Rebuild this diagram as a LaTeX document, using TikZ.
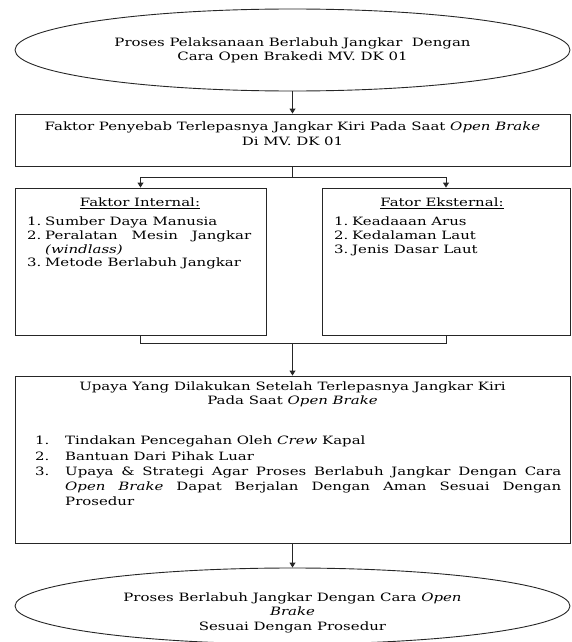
\documentclass[tikz,border=0pt]{standalone}
\usepackage{fontspec}
\setmainfont{DejaVu Serif}[FakeStretch=1.3]
\usetikzlibrary{arrows.meta,shapes.geometric}

\begin{document}
\begin{tikzpicture}[x=1pt,y=-1pt]
    \tikzset{
      frame/.style={draw=black!85, line width=0.9pt, inner sep=0pt},
      box/.style={frame, rectangle},
      oval/.style={frame, ellipse},
      txt/.style={inner sep=0pt, align=center, font=\fontsize{11.5}{14.5}\selectfont},
      daftar/.style={inner sep=0pt, anchor=west},
      link/.style={draw=black!85, line width=0.9pt},
      arr/.style={link, -{Triangle[width=6pt,length=5pt]}}
    }
    \useasboundingbox (0,0) rectangle (572,642);

    % Awal: proses pelaksanaan berlabuh jangkar
    \node[oval, minimum width=555pt, minimum height=82pt] (awal) at (292.5,50) {};
    \node[txt] (awalT) at (292.5,50.5) {Proses Pelaksanaan Berlabuh Jangkar\ \ Dengan\\Cara Open Brakedi MV. DK 01};

    % Faktor penyebab
    \node[box, minimum width=555pt, minimum height=52pt] (faktor) at (292.5,140) {};
    \node[txt] (faktorT) at (292.5,133.5) {Faktor Penyebab Terlepasnya Jangkar Kiri Pada Saat \textit{Open Brake}\\Di MV. DK 01};

    % Faktor internal
    \node[box, minimum width=251pt, minimum height=147pt] (internal) at (140.5,261.5) {};
    \node[txt] (internalH) at (140,203) {\underline{Faktor Internal:}};
    \node[daftar, font=\fontsize{11.5}{13.7}\selectfont] (internalL) at (27,243.5) {%
      \begin{tabular}{@{}l@{}l@{}}
        \makebox[18pt][l]{1.} & Sumber Daya Manusia\\
        2. & \makebox[206pt][s]{Peralatan Mesin Jangkar}\\
           & \textit{(windlass)}\\
        3. & Metode Berlabuh Jangkar
      \end{tabular}};

    % Faktor eksternal
    \node[box, minimum width=248pt, minimum height=147pt] (eksternal) at (446,261.5) {};
    \node[txt] (eksternalH) at (442,203) {\underline{Fator Eksternal:}};
    \node[daftar, font=\fontsize{11.5}{13.7}\selectfont] (eksternalL) at (334,236.7) {%
      \begin{tabular}{@{}l@{}l@{}}
        \makebox[18pt][l]{1.} & Keadaaan Arus\\
        2. & Kedalaman Laut\\
        3. & Jenis Dasar Laut
      \end{tabular}};

    % Upaya yang dilakukan
    \node[box, minimum width=555pt, minimum height=167pt] (upaya) at (292.5,459.5) {};
    \node[txt] (upayaH) at (292.5,394.5) {Upaya Yang Dilakukan Setelah Terlepasnya Jangkar Kiri\\Pada Saat \textit{Open Brake}};
    \node[daftar, font=\fontsize{11.5}{15.25}\selectfont] (upayaL) at (35,472.4) {%
      \begin{tabular}{@{}l@{}l@{}}
        \makebox[30pt][l]{1.} & Tindakan Pencegahan Oleh \textit{Crew} Kapal\\
        2. & Bantuan Dari Pihak Luar\\
        3. & \makebox[496pt][s]{Upaya \& Strategi Agar Proses Berlabuh Jangkar Dengan Cara}\\
           & \makebox[496pt][s]{\textit{Open Brake} Dapat Berjalan Dengan Aman Sesuai Dengan}\\
           & Prosedur
      \end{tabular}};

    % Akhir: sesuai prosedur
    \node[oval, minimum width=555pt, minimum height=76pt] (akhir) at (292.5,606) {};
    \node[txt] (akhirT) at (292.5,612.5) {Proses Berlabuh Jangkar Dengan Cara \textit{Open}\\\textit{Brake}\\Sesuai Dengan Prosedur};

    % Penghubung
    \draw[arr] (awal) -- (faktor);
    \draw[link] (faktor.south) -- ++(0,11) coordinate (cabang);
    \draw[arr] (cabang) -| (internal.north);
    \draw[arr] (cabang) -| (eksternal.north);
    \draw[link] (internal.south) -- ++(0,8) coordinate (gabung) -| (eksternal.south);
    \draw[arr] (gabung -| upaya.north) -- (upaya.north);
    \draw[arr] (upaya) -- (akhir);
  \end{tikzpicture}
\end{document}
